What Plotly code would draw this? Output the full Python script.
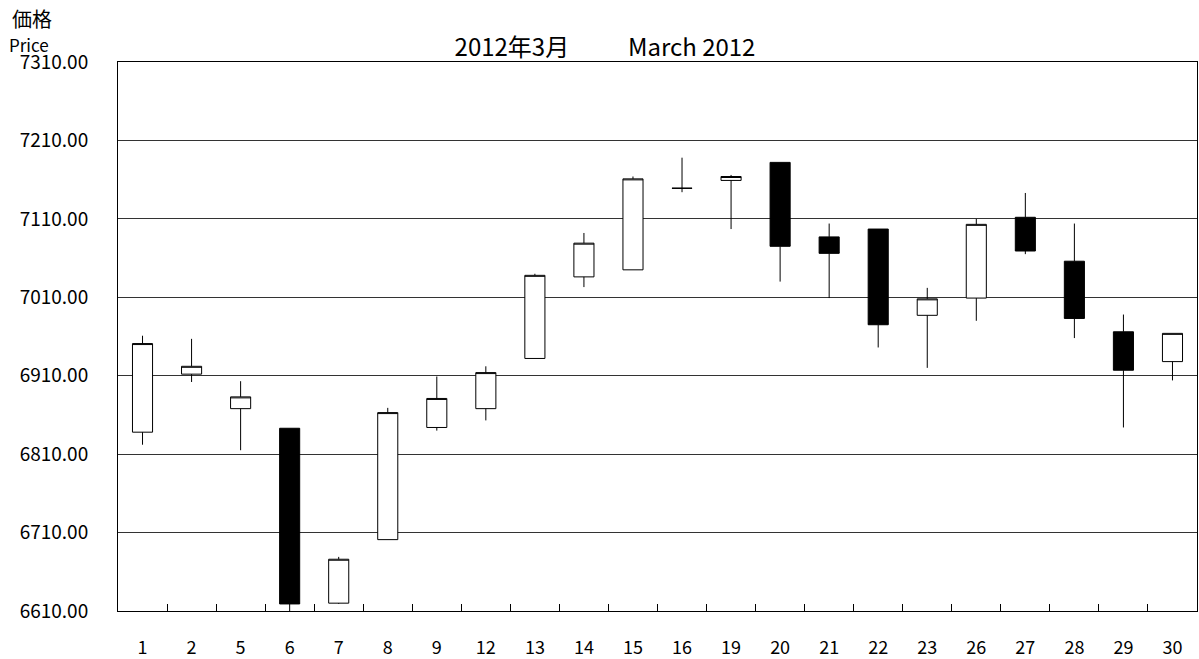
import plotly.graph_objects as go

days = ["1", "2", "5", "6", "7", "8", "9", "12", "13", "14", "15", "16",
        "19", "20", "21", "22", "23", "26", "27", "28", "29", "30"]
opens = [6838, 6912, 6868, 6843, 6620, 6701, 6844, 6868, 6932, 7036, 7045, 7149,
         7159, 7182, 7087, 7097, 6987, 7009, 7112, 7056, 6966, 6928]
highs = [6961, 6957, 6903, 6843, 6679, 6869, 6909, 6922, 7040, 7092, 7164, 7188,
         7166, 7182, 7104, 7097, 7022, 7110, 7143, 7104, 6988, 6964]
lows = [6822, 6902, 6815, 6600, 6619, 6701, 6840, 6853, 6932, 7023, 7045, 7144,
        7097, 7030, 7009, 6946, 6920, 6980, 7065, 6958, 6844, 6904]
closes = [6951, 6922, 6883, 6619, 6676, 6863, 6881, 6914, 7038, 7079, 7161, 7149,
          7164, 7075, 7066, 6975, 7008, 7103, 7069, 6983, 6917, 6964]

y_ticks = [6610, 6710, 6810, 6910, 7010, 7110, 7210, 7310]

FONT = "Noto Sans CJK JP"
W, H = 1199, 659
ML, MR, MT, MB = 118, 2, 62, 48

fig = go.Figure(go.Candlestick(
    x=days, open=opens, high=highs, low=lows, close=closes,
    increasing=dict(fillcolor="white", line=dict(color="black", width=1)),
    decreasing=dict(fillcolor="black", line=dict(color="black", width=1)),
    whiskerwidth=0,
    showlegend=False,
))

fig.update_layout(
    width=W, height=H,
    margin=dict(l=ML, r=MR, t=MT, b=MB, autoexpand=False),
    paper_bgcolor="white", plot_bgcolor="white",
    boxgap=0.415,
    font=dict(family=FONT, color="black", size=18),
    title=dict(text="2012年3月　　  March 2012", x=605 / W, xref="container",
               y=1 - 48 / H, yref="container", xanchor="center", yanchor="middle",
               font=dict(size=24, family=FONT, color="black")),
    xaxis=dict(type="category", rangeslider=dict(visible=False), automargin=False,
               showgrid=False, ticks="inside", tickson="boundaries", ticklen=7,
               tickcolor="black", showline=True, linecolor="black", linewidth=1,
               mirror=True, ticklabelstandoff=20, tickfont=dict(size=18)),
    yaxis=dict(range=[6610, 7310], tickvals=y_ticks, tickformat=".2f", automargin=False,
               showgrid=True, gridcolor="#333333", gridwidth=1,
               showline=True, linecolor="black", linewidth=1, mirror=True,
               ticks="", ticklabelstandoff=25, tickfont=dict(size=19),
               zeroline=False),
)

pw = W - ML - MR
ph = H - MT - MB
fig.add_annotation(text="価格", x=(10 - ML) / pw, y=(H - MB - 19) / ph,
                   xref="paper", yref="paper", xanchor="left", yanchor="middle",
                   showarrow=False, font=dict(size=20, family=FONT))
fig.add_annotation(text="Price", x=(7 - ML) / pw, y=(H - MB - 45) / ph,
                   xref="paper", yref="paper", xanchor="left", yanchor="middle",
                   showarrow=False, font=dict(size=17, family=FONT))

fig.write_html("out.html",
               config={"displayModeBar": False},
               post_script="document.body.style.margin='0px';"
                           "document.body.style.overflow='hidden';")
